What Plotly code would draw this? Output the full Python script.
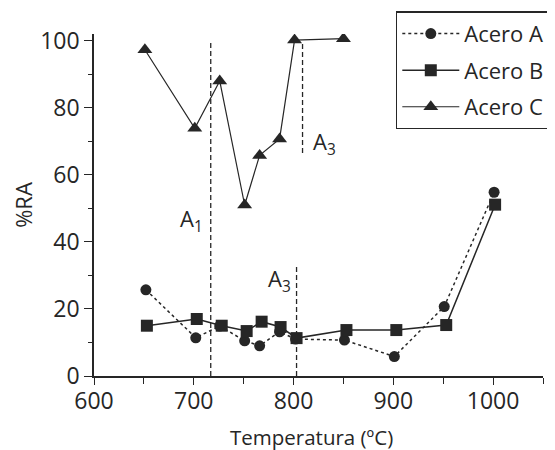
import plotly.graph_objects as go

# Data
temp_a = [652, 702, 726, 751, 766, 786, 802, 851, 901, 951, 1001]
ra_a = [25.7, 11.4, 14.9, 10.5, 9.0, 13.2, 11.0, 10.7, 5.8, 20.7, 54.8]

temp_b = [653, 703, 728, 753, 768, 787, 803, 853, 903, 953, 1002]
ra_b = [15.0, 17.0, 15.0, 13.4, 16.2, 14.6, 11.3, 13.7, 13.7, 15.2, 51.1]

temp_c = [651, 701, 726, 751, 766, 786, 801, 850]
ra_c = [97.3, 73.9, 88.0, 51.0, 65.8, 70.7, 100.2, 100.6]

series_names = ["Acero A\u00a0", "Acero B\u00a0", "Acero C\u00a0"]

# Transformation reference lines (x, y_start, y_end, label)
ref_x = [717, 803, 809]
ref_y0 = [0, 0, 66.5]
ref_y1 = [99.3, 32.6, 99.5]
ref_labels = ["A<sub>1</sub>", "A<sub>3</sub>", "A<sub>3</sub>"]
label_x = [698, 786, 831]
label_y = [46.5, 28.5, 69.5]

x_ticks = [600, 700, 800, 900, 1000]
y_ticks = [0, 20, 40, 60, 80, 100]
x_title = "Temperatura (ºC)"
y_title = "%RA"

ink = "#262626"
font_family = "Open Sans, Noto Sans, sans-serif"

fig = go.Figure()
fig.add_trace(go.Scatter(
    x=temp_a, y=ra_a, name=series_names[0], mode="lines+markers", legendgroup="a",
    line=dict(color=ink, width=1.5, dash="dot"),
    marker=dict(symbol="circle", size=11, color=ink)))
fig.add_trace(go.Scatter(
    x=temp_b, y=ra_b, name=series_names[1], mode="lines+markers", legendgroup="b",
    line=dict(color=ink, width=1.5),
    marker=dict(symbol="square", size=12, color=ink)))
fig.add_trace(go.Scatter(
    x=temp_c, y=ra_c, name=series_names[2], mode="lines+markers", legendgroup="c",
    line=dict(color=ink, width=1.2),
    marker=dict(symbol="triangle-up", size=13, color=ink)))

for xv, y0, y1, lab, lx, ly in zip(ref_x, ref_y0, ref_y1, ref_labels, label_x, label_y):
    fig.add_shape(type="line", x0=xv, x1=xv, y0=y0, y1=y1, xref="x", yref="y",
                  line=dict(color=ink, width=1.3, dash="5px,3px"))
    fig.add_annotation(x=lx, y=ly, xref="x", yref="y", text=lab, showarrow=False,
                       font=dict(size=22, color=ink, family=font_family),
                       xanchor="center", yanchor="middle")

# x-axis title placed as a paper annotation to match the reference position
fig.add_annotation(x=0.4855, y=-0.178, xref="paper", yref="paper", text=x_title,
                   showarrow=False, xanchor="center", yanchor="middle",
                   font=dict(size=20.5, color=ink, family=font_family))

# The page body adds an 8px offset, so the figure is sized 8px smaller
fig.update_layout(
    width=547, height=442,
    margin=dict(l=86, r=12, t=26, b=74, autoexpand=False),
    paper_bgcolor="white", plot_bgcolor="white",
    font=dict(family=font_family, size=22, color=ink),
    legend=dict(x=0.6726, y=1.066, xanchor="left", yanchor="top",
                bordercolor=ink, borderwidth=1.3, bgcolor="white",
                font=dict(size=22, color=ink), itemwidth=57,
                tracegroupgap=5),
    showlegend=True,
)
fig.update_xaxes(
    range=[600, 1050], tickvals=x_ticks, showgrid=False, zeroline=False,
    automargin=False,
    showline=True, linecolor=ink, linewidth=1.5,
    ticks="outside", ticklen=7, tickwidth=1.3, tickcolor=ink,
    ticklabelstandoff=-3,
    minor=dict(dtick=50, tick0=600, ticks="outside", ticklen=6, tickwidth=1.3, tickcolor=ink, showgrid=False),
    tickfont=dict(size=23, color=ink),
)
fig.update_yaxes(
    range=[0, 102], tickvals=y_ticks, showgrid=False, zeroline=False,
    automargin=False,
    showline=True, linecolor=ink, linewidth=1.5,
    ticks="outside", ticklen=8, tickwidth=1.3, tickcolor=ink,
    minor=dict(dtick=10, tick0=0, ticks="outside", ticklen=4, tickwidth=1.3, tickcolor=ink, showgrid=False),
    title=dict(text=y_title, font=dict(size=22, color=ink), standoff=12),
    tickfont=dict(size=23, color=ink),
)

fig.write_html("out.html")
